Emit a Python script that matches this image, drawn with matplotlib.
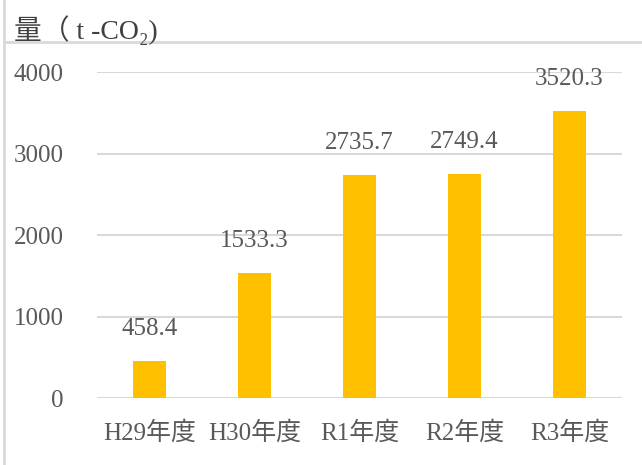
import matplotlib
matplotlib.use("Agg")
import matplotlib.pyplot as plt
from matplotlib.lines import Line2D

categories = ["H29年度", "H30年度", "R1年度", "R2年度", "R3年度"]
values = [458.4, 1533.3, 2735.7, 2749.4, 3520.3]
yticks = [0, 1000, 2000, 3000, 4000]
title = "量（ t -CO₂)"

FONT = ["Liberation Serif", "Noto Sans CJK JP", "DejaVu Sans"]
plt.rcParams["font.family"] = FONT
TXT = "#595959"
GRID = "#D9D9D9"

W, H = 642, 465
fig = plt.figure(figsize=(W / 100, H / 100), dpi=100)
ax = fig.add_axes([97 / W, (H - 398) / H, (622 - 97) / W, (398 - 72) / H])

x = list(range(len(categories)))
ax.bar(x, values, width=0.315, color="#FFC000", zorder=3)
ax.set_xlim(-0.5, len(categories) - 0.5)
ax.set_ylim(0, 4000)
ax.set_yticks(yticks)
ax.set_yticklabels([str(v) for v in yticks], fontsize=18, color=TXT)
ax.set_xticks(x)
ax.set_xticklabels(categories, fontsize=18, color=TXT)
ax.tick_params(axis="both", length=0)
ax.tick_params(axis="y", pad=24)
ax.tick_params(axis="x", pad=17)
ax.grid(axis="y", color=GRID, linewidth=1.5, zorder=0)
for s in ax.spines.values():
    s.set_visible(False)

for xi, v in zip(x, values):
    ax.annotate(f"{v:.1f}", (xi, v), xytext=(0, 15), textcoords="offset points",
                ha="center", va="bottom", fontsize=18, color=TXT,
                annotation_clip=False, zorder=4)

# chart frame remnants
fig.add_artist(Line2D([4 / W, 4 / W], [0, 1], color=GRID, linewidth=2, transform=fig.transFigure))
fig.add_artist(Line2D([4 / W, 1], [1 - 42 / H, 1 - 42 / H], color=GRID, linewidth=2, transform=fig.transFigure))

fig.text(14 / W, 1 - 30 / H, title, fontsize=20, color="#404040", va="center", ha="left")

fig.savefig("out.png", dpi=100, facecolor="white")
